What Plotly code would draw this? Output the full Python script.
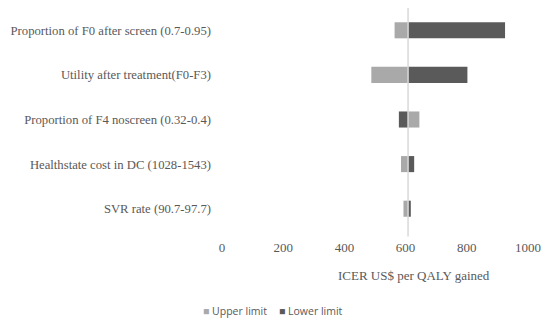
import plotly.graph_objects as go

categories = [
    "Proportion of F0 after screen (0.7-0.95)",
    "Utility after treatment(F0-F3)",
    "Proportion of F4 noscreen (0.32-0.4)",
    "Healthstate cost in DC (1028-1543)",
    "SVR rate (90.7-97.7)",
]
base_icer = 608
upper_limit = [564, 488, 645, 585, 593]
lower_limit = [925, 802, 578, 628, 617]
tick_vals = [0, 200, 400, 600, 800, 1000]
series_names = ["Upper limit", "Lower limit"]
series_colors = ["#A9A9A9", "#5A5A5A"]

serif = "Liberation Serif, Times New Roman, serif"
sans = "Open Sans, Liberation Sans, sans-serif"
txt = "#595959"

fig = go.Figure()
for name, vals, col in zip(series_names, [upper_limit, lower_limit], series_colors):
    fig.add_trace(go.Bar(
        name=name, y=categories, x=[v - base_icer for v in vals],
        base=base_icer, orientation="h", marker=dict(color=col, line=dict(width=0)),
        width=0.36, showlegend=False,
    ))
fig.add_shape(type="line", xref="x", yref="paper", x0=base_icer, x1=base_icer,
              y0=0, y1=1, line=dict(color="#D9D9D9", width=1.5), layer="above")
fig.add_shape(type="line", xref="x", yref="paper", x0=base_icer, x1=base_icer,
              y0=0, y1=-0.025, line=dict(color="#D9D9D9", width=1.5))

fig.add_annotation(text="ICER US$ per QALY gained", xref="paper", yref="paper",
                   x=0.629, y=-0.20, showarrow=False, yanchor="middle",
                   font=dict(family=serif, size=13, color=txt))

# legend drawn as text entries
leg_x = [-0.067, 0.18]
for name, col, lx in zip(series_names, series_colors, leg_x):
    fig.add_annotation(text=f'<span style="color:{col}">■</span> {name}',
                       xref="paper", yref="paper", x=lx, y=-0.357,
                       xanchor="left", yanchor="middle", showarrow=False,
                       font=dict(family=sans, size=10.5, color=txt))

fig.update_layout(
    width=542, height=316,
    margin=dict(l=214, r=22, t=0, b=93),
    paper_bgcolor="white", plot_bgcolor="white",
    barmode="overlay",
    showlegend=False,
    xaxis=dict(range=[0, 1000], tickvals=tick_vals, showgrid=False, zeroline=False,
               showline=False, ticks="", ticklabelstandoff=7, automargin=False,
               tickfont=dict(family=serif, size=13, color=txt)),
    yaxis=dict(autorange="reversed", showgrid=False, zeroline=False, showline=False,
               ticks="", ticklabelstandoff=10, automargin=False,
               tickfont=dict(family=serif, size=12.7, color=txt)),
)
fig.write_html("out.html")
